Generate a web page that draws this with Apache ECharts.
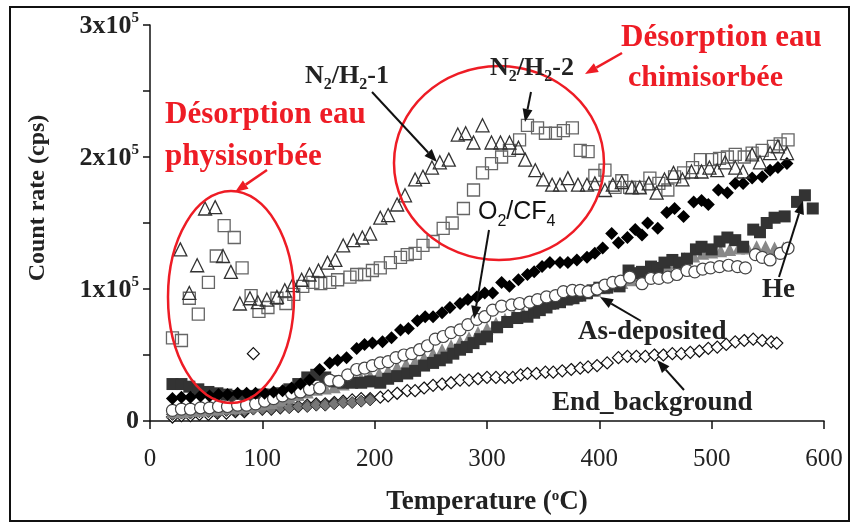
<!DOCTYPE html>
<html><head><meta charset="utf-8">
<script src="https://cdn.jsdelivr.net/npm/echarts@6/dist/echarts.min.js"></script>
<style>html,body{margin:0;padding:0;background:#fff}#c{width:853px;height:524px}</style>
</head><body><div id="c"></div>
<script>
// values: [temperature (°C), count rate (x1000 cps)]
const n2h2_1 = [[27,130],[35,97],[42,118],[49,161],[58,162],[65,125],[72,113],[80,89],[89,93],[96,90],[104,92],[113,94],[120,99],[127,103],[135,107],[142,111],[150,114],[158,120],[165,122],[172,133],[181,137],[189,139],[196,142],[205,154],[212,156],[220,164],[227,171],[236,183],[243,185],[251,192],[258,196],[266,198],[274,217],[281,218],[288,211],[296,224],[304,211],[312,211],[320,211],[328,207],[334,198],[343,190],[350,183],[358,179],[365,179],[372,184],[381,179],[389,179],[396,180],[405,175],[412,179],[420,181],[429,177],[436,177],[444,180],[451,173],[458,183],[466,188],[474,183],[482,189],[491,189],[498,192],[505,190],[512,196],[521,192],[528,189],[536,202],[543,196],[552,203],[559,208],[567,203]];
const n2h2_2 = [[20,63],[28,61],[35,93],[43,81],[52,105],[59,125],[66,148],[75,139],[82,116],[90,95],[97,83],[105,86],[113,93],[121,89],[128,96],[136,102],[145,105],[152,104],[160,105],[167,107],[178,109],[184,111],[191,111],[198,114],[205,116],[214,120],[223,124],[229,126],[236,127],[243,133],[252,136],[261,146],[269,150],[279,161],[288,175],[296,188],[304,195],[313,200],[320,205],[329,213],[336,224],[345,222],[352,218],[361,218],[368,220],[376,222],[383,205],[390,204],[396,186],[405,190],[414,177],[420,182],[427,177],[436,177],[445,184],[453,180],[461,175],[467,185],[475,188],[483,192],[490,198],[500,198],[507,199],[514,200],[521,202],[529,200],[536,203],[545,205],[555,208],[561,210],[568,213]];
const blackDiamonds = [[20,17],[28,18],[36,18],[45,19],[53,19],[61,20],[69,20],[78,21],[86,21],[94,21],[102,21],[110,22],[118,23],[126,25],[134,28],[142,31],[151,39],[160,44],[167,46],[175,48],[184,55],[191,58],[198,59],[207,60],[215,63],[223,69],[230,70],[238,76],[245,79],[252,79],[260,82],[267,86],[276,89],[283,92],[291,94],[298,97],[305,97],[313,105],[320,102],[328,107],[336,111],[342,113],[349,117],[356,120],[365,120],[372,120],[380,122],[389,124],[396,127],[403,131],[411,142],[417,135],[425,139],[432,145],[438,141],[443,150],[452,146],[460,158],[467,161],[475,155],[484,166],[491,167],[497,164],[506,175],[514,173],[521,180],[528,180],[536,184],[545,185],[552,190],[559,192],[567,195]];
const o2cf4 = [[20,8],[28,9],[36,9],[45,10],[53,10],[61,11],[69,11],[78,12],[86,12],[94,13],[102,15],[110,17],[118,19],[126,21],[134,22],[142,24],[151,25],[160,31],[168,30],[176,35],[184,39],[191,40],[198,42],[205,44],[212,45],[219,48],[226,50],[233,51],[240,54],[247,57],[254,62],[261,64],[268,67],[276,69],[283,73],[291,77],[298,79],[305,84],[313,87],[322,88],[329,89],[338,90],[345,92],[353,94],[361,95],[368,98],[376,99],[383,99],[390,98],[398,100],[405,103],[412,105],[419,106],[427,109],[438,104],[446,108],[453,108],[461,109],[469,111],[478,114],[485,113],[492,115],[499,116],[507,117],[515,118],[523,117],[530,116],[539,126],[545,124],[552,122],[561,127],[568,131]];
const he = [[20,28],[28,28],[35,26],[43,24],[52,22],[60,21],[68,20],[76,19],[84,19],[92,19],[100,20],[108,20],[116,21],[124,24],[132,28],[140,33],[148,35],[156,33],[164,30],[172,29],[180,29],[188,29],[196,30],[205,29],[212,32],[220,34],[229,36],[236,38],[244,42],[252,44],[258,46],[264,48],[270,51],[276,54],[282,56],[288,59],[294,62],[300,64],[309,71],[318,75],[327,78],[336,79],[342,82],[347,84],[353,86],[359,89],[365,90],[371,92],[377,93],[383,95],[389,97],[394,99],[400,101],[407,101],[413,104],[418,102],[426,114],[431,112],[438,113],[446,117],[452,116],[458,120],[465,122],[471,120],[478,123],[486,130],[491,132],[500,130],[507,136],[514,139],[521,137],[528,132],[537,145],[543,143],[549,150],[556,154],[565,155],[576,166],[583,171],[590,161]];
const asDeposited = [[20,7],[28,7],[36,8],[44,8],[52,9],[60,9],[68,10],[76,10],[84,11],[92,12],[100,13],[108,14],[116,16],[124,18],[132,20],[140,22],[148,24],[156,25],[164,26],[172,28],[180,30],[188,32],[196,34],[204,36],[212,38],[220,41],[228,43],[236,45],[244,48],[252,51],[260,54],[268,57],[276,60],[284,63],[292,67],[300,70],[308,74],[316,77],[324,80],[332,82],[340,85],[348,87],[356,89],[364,91],[372,93],[380,95],[388,97],[396,99],[404,101],[412,103],[420,105],[428,107],[436,110],[444,112],[452,115],[460,118],[468,120],[476,123],[484,125],[492,127],[500,128],[508,129],[516,130],[524,131],[532,131],[540,132],[548,132],[556,131],[564,131]];
const grayDiamonds = [[20,5],[28,6],[36,6],[44,7],[52,7],[60,7],[68,8],[76,8],[84,8],[92,9],[100,9],[108,9],[116,10],[124,10],[132,11],[140,11],[148,12],[156,12],[164,13],[172,14],[180,14],[188,15],[196,16]];
const endBackground = [[20,3],[28,4],[36,4],[44,5],[52,5],[60,6],[68,6],[76,7],[84,7],[92,51],[100,9],[108,9],[116,10],[124,11],[132,11],[140,12],[148,13],[156,13],[164,14],[172,15],[180,16],[188,17],[196,17],[205,18],[212,19],[220,21],[229,23],[236,23],[244,25],[252,27],[260,28],[268,29],[276,31],[284,31],[292,32],[300,33],[308,33],[316,33],[323,33],[330,35],[336,36],[344,36],[352,37],[359,37],[367,38],[375,39],[383,40],[390,41],[398,42],[407,44],[417,48],[425,49],[433,49],[441,49],[449,50],[457,50],[465,51],[473,51],[481,52],[489,53],[497,55],[505,56],[513,58],[521,60],[529,61],[537,62],[545,61],[553,60],[558,59]];
const xTickValues = [0,100,200,300,400,500,600];
const yTickLabels = {0:['0',''],100:['1x10','5'],200:['2x10','5'],300:['3x10','5']};

const SERIF = '"Liberation Serif", "Times New Roman", serif';
const RED = '#ee1c25';

function arrow(x1,y1,x2,y2,color,w){
  const a = Math.atan2(y2-y1,x2-x1), L = 13, W = 5;
  const bx = x2 - L*Math.cos(a), by = y2 - L*Math.sin(a);
  const px = -Math.sin(a)*W, py = Math.cos(a)*W;
  return [
    {type:'line', z:100, shape:{x1:x1,y1:y1,x2:bx,y2:by}, style:{stroke:color,lineWidth:w}},
    {type:'polygon', z:100, shape:{points:[[x2,y2],[bx+px,by+py],[bx-px,by-py]]}, style:{fill:color}}
  ];
}
function txt(x,y,text,size,color,weight,family,rich){
  return {type:'text', z:101, x:x, y:y, style:{text:text, fill:color, fontSize:size, fontWeight:weight||'bold', fontFamily:family||SERIF, verticalAlign:'middle', align:'left', rich:rich}};
}
const subRich = {
  a:{fontSize:26,fontWeight:'bold',fontFamily:SERIF,verticalAlign:'top',fill:'#222'},
  s:{fontSize:16,fontWeight:'bold',fontFamily:SERIF,padding:[13,0,0,0],verticalAlign:'top',fill:'#222'}
};
const sansRich = {
  a:{fontSize:25,fontFamily:'"Liberation Sans", Arial, sans-serif',verticalAlign:'top',fill:'#111'},
  s:{fontSize:16,fontFamily:'"Liberation Sans", Arial, sans-serif',padding:[14,0,0,0],verticalAlign:'top',fill:'#111'}
};

const graphics = [
  {type:'rect', z:0, shape:{x:10,y:7,width:839,height:514}, style:{fill:'none',stroke:'#111',lineWidth:2}},
  {type:'ellipse', z:99, shape:{cx:231,cy:297,rx:63,ry:106}, style:{fill:'none',stroke:RED,lineWidth:2.5}},
  {type:'ellipse', z:99, shape:{cx:499,cy:163,rx:105,ry:97}, style:{fill:'none',stroke:RED,lineWidth:2.5}},
  ...arrow(267,170,235,192,RED,2.5),
  ...arrow(622,53,585,74,RED,2.5),
  ...arrow(372,92,437,162,'#111',2),
  ...arrow(531,92,525,122,'#111',2),
  ...arrow(489,230,474,319,'#111',2),
  ...arrow(779,277,803,201,'#111',2),
  ...arrow(641,321,600,297,'#111',2),
  ...arrow(684,390,657,360,'#111',2),
  txt(165,115,'Désorption eau',31,RED),
  txt(165,157,'physisorbée',31,RED),
  txt(621,38,'Désorption eau',31,RED),
  txt(628,78,'chimisorbée',30,RED),
  txt(305,78,'{a|N}{s|2}{a|/H}{s|2}{a|-1}',26,'#222','bold',SERIF,subRich),
  txt(490,70,'{a|N}{s|2}{a|/H}{s|2}{a|-2}',26,'#222','bold',SERIF,subRich),
  txt(478,215,'{a|O}{s|2}{a|/CF}{s|4}',25,'#111','normal','"Liberation Sans", Arial, sans-serif',sansRich),
  txt(762,290,'He',27,'#222'),
  txt(578,332,'As-deposited',27,'#222'),
  txt(552,403,'End_background',27,'#222')
];

function sc(name,data,symbol,size,fill,stroke,bw,z){
  return {name:name,type:'scatter',data:data,symbol:symbol,symbolSize:size,z:z||2,
    itemStyle:{color:fill,borderColor:stroke,borderWidth:bw||0,opacity:1},
    emphasis:{disabled:true},animation:false};
}

const chart = echarts.init(document.getElementById('c'),null,{renderer:'canvas'});
chart.setOption({
  animation:false,
  backgroundColor:'#fff',
  grid:{left:150,right:29,top:25,bottom:103,containLabel:false},
  xAxis:{type:'value',min:0,max:600,interval:100,
    axisLine:{show:true,lineStyle:{color:'#111',width:1.5}},
    axisTick:{show:true,inside:false,length:8,lineStyle:{color:'#111',width:1.5}},
    splitLine:{show:false},
    axisLabel:{margin:26,fontFamily:SERIF,fontSize:25,color:'#222',
      formatter:v=>xTickValues.includes(v)?String(v):''},
    name:'Temperature ({o|o}C)',nameLocation:'middle',nameGap:68,
    nameTextStyle:{fontFamily:SERIF,fontSize:27,fontWeight:'bold',color:'#222',
      rich:{o:{fontSize:15,fontWeight:'bold',fontFamily:SERIF,padding:[0,0,12,0],verticalAlign:'bottom',color:'#222'}}}
  },
  yAxis:{type:'value',min:0,max:300,interval:50,
    axisLine:{show:true,onZero:false,lineStyle:{color:'#111',width:1.5}},
    axisTick:{show:true,inside:false,length:7,lineStyle:{color:'#111',width:1.5}},
    splitLine:{show:false},
    axisLabel:{margin:11,
      formatter:v=>{const t=yTickLabels[v]; if(!t) return ''; return t[1]?'{n|'+t[0]+'}{s|'+t[1]+'}':'{n|'+t[0]+'}';},
      rich:{n:{fontFamily:SERIF,fontSize:26,fontWeight:'bold',color:'#222',verticalAlign:'bottom'},
            s:{fontFamily:SERIF,fontSize:15,fontWeight:'bold',color:'#222',padding:[0,0,13,0],verticalAlign:'bottom'}}},
    name:'Count rate (cps)',nameLocation:'middle',nameGap:100,nameRotate:90,
    nameTextStyle:{fontFamily:SERIF,fontSize:24,fontWeight:'bold',color:'#222',padding:[0,0,0,50]}
  },
  series:[
    sc('End_background',endBackground,'diamond',12,'#fff','#111',1.2,2),
    sc('grayDiamonds',grayDiamonds,'diamond',12,'#777','#333',1,3),
    sc('As-deposited',asDeposited,'triangle',13,'#888','#888',0,3),
    sc('He',he,'rect',12,'#333','#333',0,4),
    sc('O2/CF4',o2cf4,'circle',12,'#fff','#444',1.2,5),
    sc('blackDiamonds',blackDiamonds,'diamond',13,'#000','#000',0,6),
    sc('N2/H2-2',n2h2_2,'rect',12,'none','#666',1.3,7),
    sc('N2/H2-1',n2h2_1,'triangle',13,'none','#333',1.3,8)
  ],
  graphic:graphics
});
</script></body></html>
